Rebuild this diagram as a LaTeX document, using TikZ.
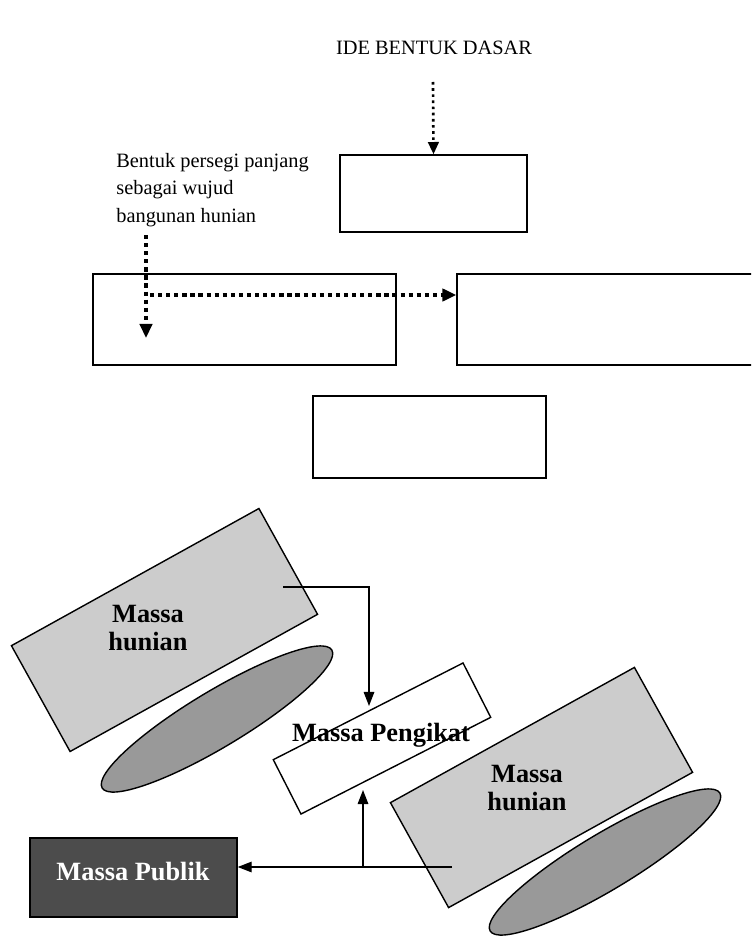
\documentclass[tikz,border=0pt]{standalone}
\usepackage{fontspec}
\setmainfont{Liberation Serif}
\usetikzlibrary{positioning,shapes.geometric,arrows.meta}

\tikzset{
  kotak/.style={draw,line width=0.8pt,inner sep=0pt},
  titik/.style={line width=1.5pt,dotted,-{Triangle[length=7pt,width=6pt]}},
  titiktebal/.style={line width=2.4pt,dash pattern=on 2.4pt off 2.2pt,-{Triangle[length=8pt,width=7pt]}},
  panah/.style={line width=0.8pt,-{Triangle[length=8pt,width=6pt]}},
  massa/.style={draw,line width=0.8pt,fill=black!20,inner sep=0pt},
  oval/.style={ellipse,draw,line width=0.8pt,fill=black!40,inner sep=0pt,
    minimum width=5.36cm,minimum height=1.12cm},
  tulisan/.style={font=\bfseries\fontsize{15}{15.5}\selectfont,align=center,inner sep=0pt},
}

\begin{document}
\begin{tikzpicture}[x=0.02cm,y=-0.02cm,font=\fontsize{11.6}{15.5}\selectfont]
  \path[use as bounding box,clip] (0,0) rectangle (751,939);

  % bagian atas
  \node (judul) at (434,48) {IDE BENTUK DASAR};
  \node[anchor=west,align=left,inner sep=0pt] (persegi) at (116,190)
    {Bentuk persegi panjang\\sebagai wujud\\bangunan hunian};
  \node[kotak,minimum width=3.74cm,minimum height=1.54cm] (kotakA) at (433.5,193.5) {};
  \node[kotak,minimum width=6.06cm,minimum height=1.82cm] (kotakB) at (244.5,319.5) {};
  \node[kotak,minimum width=6.06cm,minimum height=1.82cm] (kotakC) at (608.5,319.5) {};
  \node[kotak,minimum width=4.66cm,minimum height=1.64cm] (kotakD) at (429.5,437) {};

  \coordinate (awal) at (433,82);
  \draw[titik] (awal) -- (kotakA.north);
  \coordinate (turun) at (146,235);
  \coordinate (ujung) at (146,338);
  \coordinate (belok) at (150,295);
  \draw[titiktebal] (turun) -- (ujung);
  \draw[titiktebal] (belok) -- (belok -| kotakC.west);

  % susunan massa
  \node[massa,rotate=29,minimum width=5.66cm,minimum height=2.42cm] (hunianA) at (164.5,630) {};
  \node[oval,rotate=31] (ovalA) at (217,719) {};
  \node[massa,fill=white,rotate=27,minimum width=4.26cm,minimum height=1.22cm] (pengikat) at (382,738.5) {};
  \node[massa,rotate=29,minimum width=5.58cm,minimum height=2.4cm] (hunianB) at (541.5,787.5) {};
  \node[oval,rotate=31] (ovalB) at (605,862) {};
  \node[massa,fill=black!70,minimum width=4.14cm,minimum height=1.58cm] (publik) at (133.5,877.5) {};

  \node[tulisan] (tekshunianA) at (148,628) {Massa\\hunian};
  \node[tulisan] (tekshunianB) at (527,788) {Massa\\hunian};
  \node[tulisan] (tekspengikat) at (381,735) {Massa Pengikat};
  \node[tulisan,text=white] (tekspublik) at (133,872) {Massa Publik};

  \coordinate (hA) at (283,587);
  \coordinate (p1) at (369,706);
  \draw[panah] (hA) -| (p1);
  \coordinate (hB) at (452,867);
  \draw[panah] (hB) -- (hB -| publik.east);
  \coordinate (cabang) at (363,867);
  \coordinate (p2) at (363,790);
  \draw[panah] (cabang) -- (p2);
\end{tikzpicture}
\end{document}
